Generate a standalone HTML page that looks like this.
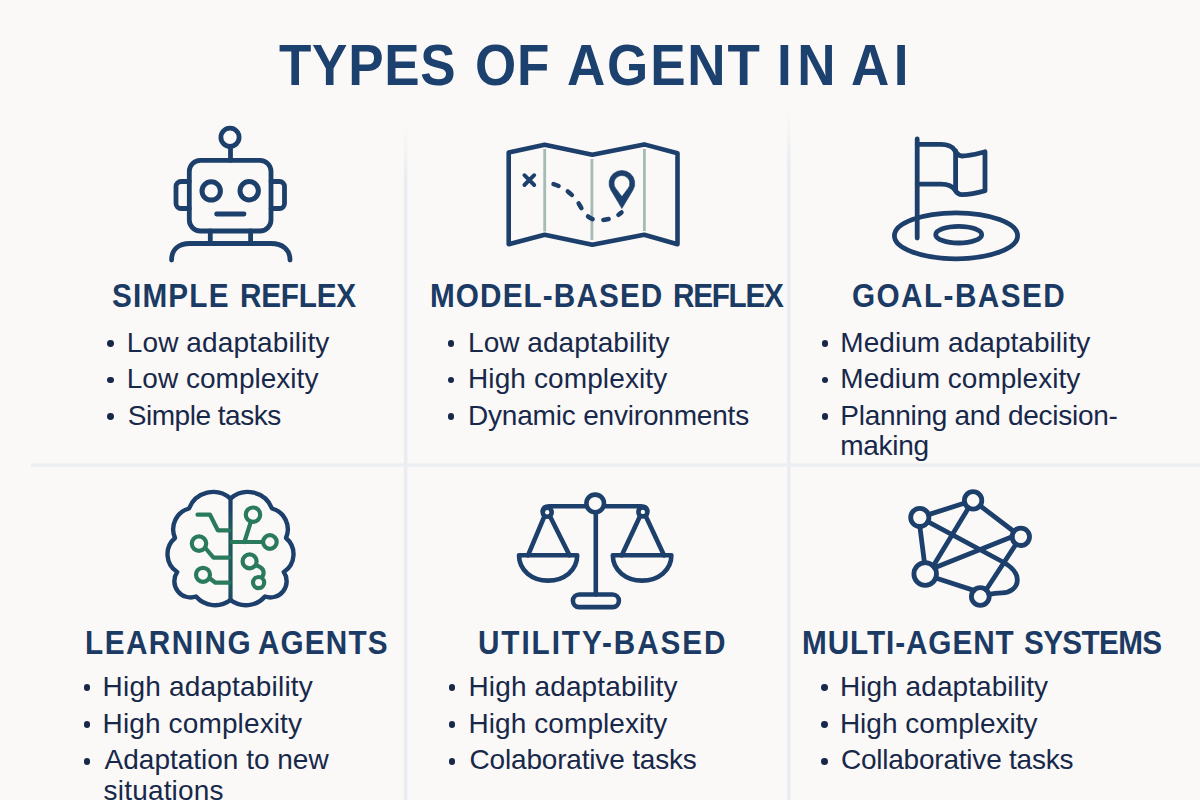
<!DOCTYPE html>
<html><head><meta charset="utf-8"><title>Types of Agent in AI</title>
<style>
html,body{margin:0;padding:0;}
body{width:1200px;height:800px;overflow:hidden;background:#faf9f7;position:relative;font-family:"Liberation Sans",sans-serif;}
.t{position:absolute;white-space:nowrap;line-height:40px;transform-origin:0 0;}
.b{position:absolute;width:6.8px;height:6.8px;border-radius:50%;background:#18284a;}
svg{position:absolute;left:0;top:0;}
</style></head><body>
<svg width="1200" height="800" viewBox="0 0 1200 800">
<defs>
<linearGradient id="vfade" x1="0" y1="0" x2="0" y2="1"><stop offset="0" stop-color="#e9edf1" stop-opacity="0"/><stop offset="0.08" stop-color="#e9edf1" stop-opacity="1"/><stop offset="1" stop-color="#e9edf1"/></linearGradient>
<linearGradient id="brainc" gradientUnits="userSpaceOnUse" x1="0" y1="496" x2="0" y2="602"><stop offset="0" stop-color="#1d3f6b"/><stop offset="0.12" stop-color="#1d3f6b"/><stop offset="0.3" stop-color="#1e5a5c"/><stop offset="0.85" stop-color="#1e5a5c"/><stop offset="1" stop-color="#1d3f6b"/></linearGradient>
</defs>
<rect x="403.8" y="125" width="3.6" height="675" fill="url(#vfade)"/>
<rect x="787" y="110" width="3.6" height="690" fill="url(#vfade)"/>
<rect x="31" y="463.3" width="1169" height="3.4" fill="#eceff2"/>
<g fill="none" stroke="#1d3f6b" stroke-width="4.8" stroke-linecap="round" stroke-linejoin="round">
<circle cx="230" cy="137.3" r="9.1"/>
<line x1="230.5" y1="146.4" x2="230.5" y2="160.4"/>
<rect x="189.3" y="160.4" width="81.7" height="70.6" rx="11"/>
<path d="M189.3,181.5 H181 a5,5 0 0 0 -5,5 V203.5 a5,5 0 0 0 5,5 H189.3"/>
<path d="M271,181.5 H279.5 a5,5 0 0 1 5,5 V203.5 a5,5 0 0 1 -5,5 H271"/>
<circle cx="211.2" cy="190.9" r="9.2" stroke-width="5"/>
<circle cx="249.2" cy="190.8" r="9.2" stroke-width="5"/>
<line x1="216.6" y1="214" x2="244" y2="214"/>
<line x1="210.3" y1="231" x2="210.3" y2="243.5"/>
<line x1="250.6" y1="231" x2="250.6" y2="243.5"/>
<path d="M171.6,260 C171.6,250 178,243.5 190,243.5 H271 C283,243.5 290,250 290,260"/>
</g>
<g fill="none" stroke="#a5bbb7" stroke-width="2.8">
<line x1="544.7" y1="149" x2="544.7" y2="231.5"/>
<line x1="591.9" y1="159" x2="591.9" y2="240"/>
<line x1="644.4" y1="149" x2="644.4" y2="231"/>
</g>
<g fill="none" stroke="#1d3f6b" stroke-width="4.6" stroke-linejoin="round" stroke-linecap="round">
<path d="M508.7,152.5 L544.7,144.7 L592.3,154.7 L644.2,144.4 L677.5,153.3 V244.2 L644.2,234.7 L592.3,244.7 L544.7,234.7 L508.7,244.2 Z"/>
</g>
<g fill="none" stroke="#1d3f6b" stroke-width="3.9" stroke-linecap="round">
<path d="M524.4,175.2 L534.2,185.0 M534.2,175.2 L524.4,185.0"/>
</g>
<path d="M552,183.6 C563,186.5 573,194 579,204 C583,211 587,218 594,219.5 C603,221 613,219.5 621.5,212.5" fill="none" stroke="#1d3f6b" stroke-width="4.5" stroke-linecap="round" stroke-dasharray="5.4 10.74" stroke-dashoffset="-1.6"/>
<path d="M621.90,208.60 L610.82,190.00 A12.9,12.9 0 1 1 632.98,190.00 Z M621.90,196.60 L628.23,188.13 A7.9,7.9 0 1 0 615.57,188.13 Z " fill="#1d3f6b" fill-rule="evenodd" stroke="#1d3f6b" stroke-width="0.6" stroke-linejoin="round"/>
<g fill="none" stroke="#1d3f6b" stroke-width="4.8" stroke-linecap="round" stroke-linejoin="round">
<ellipse cx="956" cy="235.8" rx="61.6" ry="23"/>
<ellipse cx="958.7" cy="234.7" rx="23" ry="8.3"/>
<line x1="917.2" y1="139" x2="917.2" y2="238"/>
<path d="M917.2,144.3 H941 C948,144.3 952,146 954.5,150 C956.5,153.5 958,156 962,156 C970,156 978,153.5 985,151.8 V190.8 C978,192.8 970,194.6 962,194.6 C958,194.6 956.5,192.6 955,190 C952.5,186 948,184.1 941,184.1 H917.2"/>
<line x1="955.6" y1="151" x2="955.6" y2="190"/>
</g>
<g fill="none" stroke="#1d3f6b" stroke-width="4.4" stroke-linejoin="round" stroke-linecap="round">
<path d="M230.50,498.50 A26.02,26.02 0 0 0 189.00,508.50 A21.65,21.65 0 0 0 175.00,538.00 A21.21,21.21 0 0 0 177.20,572.00 A16.24,16.24 0 0 0 196.00,596.50 A25.23,25.23 0 0 0 230.50,600.00 "/>
<path d="M230.50,498.50 A26.02,26.02 0 0 1 272.00,508.50 A21.65,21.65 0 0 1 286.00,538.00 A21.21,21.21 0 0 1 283.80,572.00 A16.24,16.24 0 0 1 265.00,596.50 A25.23,25.23 0 0 1 230.50,600.00 "/>
</g>
<line x1="230.5" y1="498" x2="230.5" y2="600.5" stroke="url(#brainc)" stroke-width="4.2"/>
<g fill="none" stroke="#2a7a5e" stroke-width="4.2" stroke-linejoin="round" stroke-linecap="round">
<path d="M197.5,514.7 H210 L217.8,530.3 H229"/>
<circle cx="199" cy="543.6" r="7.2"/>
<path d="M205.3,548 L213.5,557.7 H229"/>
<circle cx="203" cy="574.8" r="7"/>
<path d="M209.6,578.3 L215.5,582.7 H229"/>
<circle cx="253" cy="514.7" r="7.2"/>
<path d="M250.8,521.8 L244.4,542 M232,542 H262.8"/>
<circle cx="269.9" cy="542" r="6.8"/>
<circle cx="249.6" cy="561.4" r="7"/>
<path d="M256,565.2 C262.5,567.2 265.2,571 262.7,576.2"/>
<circle cx="258.6" cy="582.6" r="5.6"/>
</g>
<g fill="none" stroke="#1d3f6b" stroke-width="4.6" stroke-linejoin="round" stroke-linecap="round">
<circle cx="595.2" cy="503.4" r="8.8"/>
<line x1="595.8" y1="512.2" x2="595.8" y2="594.5"/>
<path d="M586.4,506.3 H549 C545,506.3 543,508 542.8,511"/>
<path d="M604,506.3 H641 C645,506.3 647,508 647.2,511"/>
<circle cx="547.2" cy="512.2" r="4.5"/>
<circle cx="642.9" cy="511.9" r="4.5"/>
<path d="M544.3,516.5 L528,555.3 M550.1,516.5 L569.5,555.3"/>
<path d="M640,516.2 L621.8,555.3 M645.8,516.2 L664,555.3"/>
<path d="M519,555.3 H577.2 C577.2,570.5 564,580.6 548.1,580.6 C532.2,580.6 519,570.5 519,555.3 Z"/>
<path d="M612.8,555.3 H671.4 C671.4,570.5 658,580.6 642.1,580.6 C626.2,580.6 612.8,570.5 612.8,555.3 Z"/>
<rect x="572.9" y="594.5" width="46" height="12.6" rx="6.3"/>
</g>
<g fill="none" stroke="#1d3f6b" stroke-width="4.8" stroke-linejoin="round" stroke-linecap="round">
<path d="M928.47,514.63 L964.81,503.04 M919.86,526.50 L924.47,562.72 M968.58,507.84 L933.23,566.05 M980.02,505.68 L1013.88,531.52 M1012.10,536.69 L934.65,567.80 M1016.04,544.08 L986.16,589.80 M935.78,577.96 L973.83,590.39 M927.82,521.70 L1003,562 C1012,567 1017.3,572 1017.3,580 C1017.3,588 1010,592.6 1002,592.8 C997,593 994,593.3 988.94,594.36"/>
<circle cx="919.8" cy="517.4" r="9.1"/>
<circle cx="973.1" cy="500.4" r="8.7"/>
<circle cx="1020.8" cy="536.8" r="8.7"/>
<circle cx="925.2" cy="574.0" r="11.3"/>
<circle cx="980.3" cy="596.5" r="8.9"/>
</g>
</svg>
<div class="t" style="left:279.37px;top:45.24px;font-size:57px;font-weight:700;letter-spacing:0.774px;color:#1d416f;transform:scaleX(0.93)">TYPES</div>
<div class="t" style="left:475.34px;top:45.24px;font-size:57px;font-weight:700;letter-spacing:0.914px;color:#1d416f;transform:scaleX(0.93)">OF</div>
<div class="t" style="left:567.14px;top:45.24px;font-size:57px;font-weight:700;letter-spacing:1.96px;color:#1d416f;transform:scaleX(0.93)">AGENT</div>
<div class="t" style="left:776.78px;top:45.24px;font-size:57px;font-weight:700;letter-spacing:5.839px;color:#1d416f;transform:scaleX(0.93)">IN</div>
<div class="t" style="left:850.64px;top:45.24px;font-size:57px;font-weight:700;letter-spacing:4.914px;color:#1d416f;transform:scaleX(0.93)">AI</div>
<div class="t" style="left:111.50px;top:275.96px;font-size:33px;font-weight:700;letter-spacing:1.311px;color:#1b3a64;transform:scaleX(0.9)">SIMPLE</div>
<div class="t" style="left:240.40px;top:275.96px;font-size:33px;font-weight:700;letter-spacing:-0.244px;color:#1b3a64;transform:scaleX(0.9)">REFLEX</div>
<div class="t" style="left:429.90px;top:275.86px;font-size:33px;font-weight:700;letter-spacing:1.244px;color:#1b3a64;transform:scaleX(0.9)">MODEL-BASED</div>
<div class="t" style="left:672.80px;top:275.86px;font-size:33px;font-weight:700;letter-spacing:-1.4px;color:#1b3a64;transform:scaleX(0.9)">REFLEX</div>
<div class="t" style="left:852.10px;top:275.86px;font-size:33px;font-weight:700;letter-spacing:1.605px;color:#1b3a64;transform:scaleX(0.9)">GOAL-BASED</div>
<div class="t" style="left:84.60px;top:622.86px;font-size:33px;font-weight:700;letter-spacing:1.651px;color:#1b3a64;transform:scaleX(0.9)">LEARNING</div>
<div class="t" style="left:257.60px;top:622.86px;font-size:33px;font-weight:700;letter-spacing:1.289px;color:#1b3a64;transform:scaleX(0.9)">AGENTS</div>
<div class="t" style="left:477.70px;top:622.96px;font-size:33px;font-weight:700;letter-spacing:2.139px;color:#1b3a64;transform:scaleX(0.9)">UTILITY-BASED</div>
<div class="t" style="left:801.95px;top:622.86px;font-size:33px;font-weight:700;letter-spacing:1.033px;color:#1b3a64;transform:scaleX(0.9)">MULTI-AGENT</div>
<div class="t" style="left:1023.80px;top:622.86px;font-size:33px;font-weight:700;letter-spacing:-0.713px;color:#1b3a64;transform:scaleX(0.9)">SYSTEMS</div>
<div class="t" style="left:126.75px;top:322.59px;font-size:28px;font-weight:400;letter-spacing:0.117px;color:#18284a">Low adaptability</div>
<div class="t" style="left:126.75px;top:359.19px;font-size:28px;font-weight:400;letter-spacing:0.019px;color:#18284a">Low complexity</div>
<div class="t" style="left:127.75px;top:395.69px;font-size:28px;font-weight:400;letter-spacing:-0.477px;color:#18284a">Simple tasks</div>
<div class="t" style="left:468.00px;top:322.59px;font-size:28px;font-weight:400;letter-spacing:0.053px;color:#18284a">Low adaptability</div>
<div class="t" style="left:468.00px;top:359.19px;font-size:28px;font-weight:400;letter-spacing:0.114px;color:#18284a">High complexity</div>
<div class="t" style="left:468.00px;top:395.69px;font-size:28px;font-weight:400;letter-spacing:-0.189px;color:#18284a">Dynamic environments</div>
<div class="t" style="left:840.30px;top:322.59px;font-size:28px;font-weight:400;letter-spacing:0.05px;color:#18284a">Medium adaptability</div>
<div class="t" style="left:840.30px;top:359.19px;font-size:28px;font-weight:400;letter-spacing:0.019px;color:#18284a">Medium complexity</div>
<div class="t" style="left:840.30px;top:395.69px;font-size:28px;font-weight:400;letter-spacing:-0.276px;color:#18284a">Planning and decision-</div>
<div class="t" style="left:840.30px;top:426.49px;font-size:28px;font-weight:400;letter-spacing:-0.32px;color:#18284a">making</div>
<div class="t" style="left:102.60px;top:667.09px;font-size:28px;font-weight:400;letter-spacing:0.2px;color:#18284a">High adaptability</div>
<div class="t" style="left:102.60px;top:703.99px;font-size:28px;font-weight:400;letter-spacing:0.129px;color:#18284a">High complexity</div>
<div class="t" style="left:104.60px;top:740.49px;font-size:28px;font-weight:400;letter-spacing:-0.006px;color:#18284a">Adaptation to new</div>
<div class="t" style="left:103.60px;top:770.99px;font-size:28px;font-weight:400;letter-spacing:0.178px;color:#18284a">situations</div>
<div class="t" style="left:468.50px;top:667.09px;font-size:28px;font-weight:400;letter-spacing:0.125px;color:#18284a">High adaptability</div>
<div class="t" style="left:468.50px;top:703.99px;font-size:28px;font-weight:400;letter-spacing:0.079px;color:#18284a">High complexity</div>
<div class="t" style="left:469.50px;top:740.49px;font-size:28px;font-weight:400;letter-spacing:-0.176px;color:#18284a">Colaborative tasks</div>
<div class="t" style="left:839.90px;top:667.09px;font-size:28px;font-weight:400;letter-spacing:0.069px;color:#18284a">High adaptability</div>
<div class="t" style="left:839.90px;top:703.99px;font-size:28px;font-weight:400;letter-spacing:0.007px;color:#18284a">High complexity</div>
<div class="t" style="left:840.90px;top:740.49px;font-size:28px;font-weight:400;letter-spacing:-0.217px;color:#18284a">Collaborative tasks</div>
<div class="b" style="left:107.20px;top:339.90px"></div>
<div class="b" style="left:107.20px;top:376.50px"></div>
<div class="b" style="left:107.20px;top:413.00px"></div>
<div class="b" style="left:447.60px;top:339.90px"></div>
<div class="b" style="left:447.60px;top:376.50px"></div>
<div class="b" style="left:447.60px;top:413.00px"></div>
<div class="b" style="left:821.60px;top:339.90px"></div>
<div class="b" style="left:821.60px;top:376.50px"></div>
<div class="b" style="left:821.60px;top:413.00px"></div>
<div class="b" style="left:83.50px;top:684.40px"></div>
<div class="b" style="left:83.50px;top:721.30px"></div>
<div class="b" style="left:83.50px;top:757.80px"></div>
<div class="b" style="left:448.70px;top:684.40px"></div>
<div class="b" style="left:448.70px;top:721.30px"></div>
<div class="b" style="left:448.70px;top:757.80px"></div>
<div class="b" style="left:821.10px;top:684.40px"></div>
<div class="b" style="left:821.10px;top:721.30px"></div>
<div class="b" style="left:821.10px;top:757.80px"></div>
</body></html>
